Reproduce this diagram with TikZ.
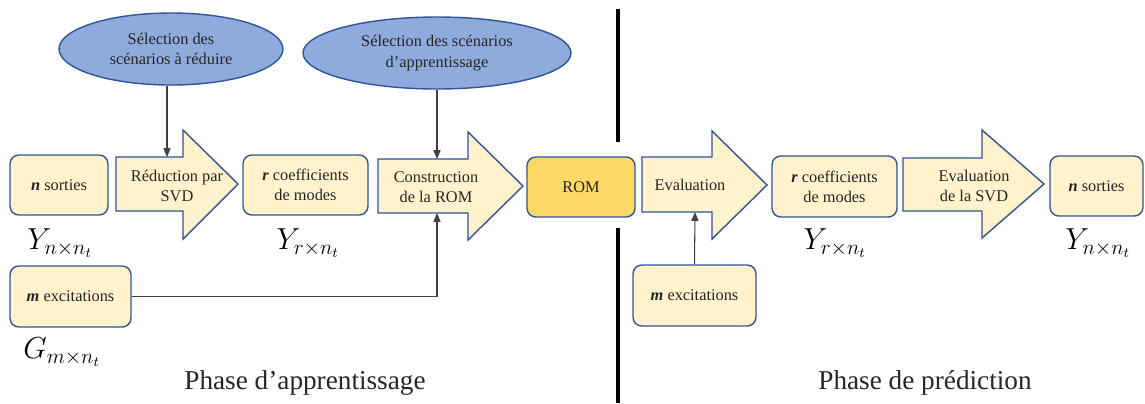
\documentclass[tikz,border=0pt]{standalone}
\usepackage{fontspec}
\setmainfont{Liberation Serif}
\usepackage{amsmath}
\usetikzlibrary{shapes.geometric,arrows.meta}

\definecolor{boxfill}{HTML}{FFF2CC}
\definecolor{edgeblue}{HTML}{2F5597}
\definecolor{ellfill}{HTML}{8FAADC}
\definecolor{romfill}{HTML}{FFD966}
\definecolor{linkgray}{HTML}{404040}
\definecolor{inkgray}{HTML}{262626}

\begin{document}
\begin{tikzpicture}[x=0.02cm,y=-0.02cm,
    box/.style={draw=edgeblue,fill=boxfill,line width=0.8pt,rounded corners=5pt,
      minimum height=1.2cm,align=center,inner sep=1pt,text=inkgray,font=\fontsize{9.3}{11.5}\selectfont},
    choice/.style={ellipse,draw=edgeblue,fill=ellfill,line width=0.8pt,inner sep=0pt,
      align=center,text=inkgray,font=\fontsize{9.3}{11.5}\selectfont},
    bigarrow/.style={draw=edgeblue,fill=boxfill,line width=0.8pt,line join=miter},
    steptext/.style={align=center,inner sep=0pt,text=inkgray,font=\fontsize{9.3}{11.5}\selectfont},
    matlabel/.style={font=\fontsize{16.5}{19}\selectfont},
    phase/.style={text=inkgray,font=\fontsize{15.5}{18}\selectfont},
    link/.style={draw=linkgray,line width=0.6pt,-{Triangle[length=5pt,width=4pt]}},
    divider/.style={line width=1.8pt,black}]

\useasboundingbox (0,0) rectangle (1145,403);

% Learning phase
\node[box,minimum width=1.96cm] (sortA) at (59,185) {\textbf{\textit{n}} sorties};
\node[box,minimum width=2.5cm] (coefA) at (305.5,185) {\textbf{\textit{r}} coefficients\\de modes};
\node[box,minimum width=2.42cm,minimum height=1.22cm] (excA) at (70.5,296.5) {\textbf{\textit{m}} excitations};
\node[box,fill=romfill,minimum width=2.16cm] (rom) at (581,187) {ROM};

\node[choice,minimum width=4.48cm,minimum height=1.44cm] (sel1) at (171,49)
  {S\'election des\\sc\'enarios \`a r\'eduire};
\node[choice,minimum width=5.36cm,minimum height=1.44cm] (sel2) at (437,53)
  {S\'election des sc\'enarios\\d'apprentissage};

\draw[bigarrow] (116,157) -- (183,157) -- (183,130) -- (238,184) -- (183,239) -- (183,211) -- (116,211) -- cycle;
\draw[bigarrow] (378,159) -- (468,159) -- (468,132) -- (523,186) -- (468,240) -- (468,213) -- (378,213) -- cycle;
\node[steptext] (red) at (177,186) {R\'eduction par\\SVD};
\node[steptext] (cons) at (436,187) {Construction\\de la ROM};

\coordinate (redtop) at (167,157);
\coordinate (constop) at (437,159);
\coordinate (consbot) at (437,213);

\draw[link] (redtop |- sel1.south) -- (redtop);
\draw[link] (sel2.south) -- (constop);
\draw[link] (excA.east) -| (consbot);

\node[matlabel] (ynA) at (60,243) {$Y_{n\times n_t}$};
\node[matlabel] (yrA) at (308,243) {$Y_{r\times n_t}$};
\node[matlabel] (gmA) at (62,352) {$G_{m\times n_t}$};

% Prediction phase
\draw[bigarrow] (642,157) -- (712,157) -- (712,131) -- (767,185) -- (712,239) -- (712,212) -- (642,212) -- cycle;
\draw[bigarrow] (903,158) -- (982,158) -- (982,130) -- (1044,184) -- (982,238) -- (982,211) -- (903,211) -- cycle;
\node[steptext] (evalA) at (690,185) {Evaluation};
\node[steptext] (evalB) at (974,186) {Evaluation\\de la SVD};

\node[box,minimum width=2.5cm,minimum height=1.22cm] (coefB) at (834.5,186.5) {\textbf{\textit{r}} coefficients\\de modes};
\node[box,minimum width=1.86cm] (sortB) at (1096.5,186) {\textbf{\textit{n}} sorties};
\node[box,minimum width=2.46cm,minimum height=1.22cm] (excB) at (694.5,295.5) {\textbf{\textit{m}} excitations};

\coordinate (evalbot) at (695,212);
\draw[link] (excB.north) -- (evalbot);

\node[matlabel] (yrB) at (835,243) {$Y_{r\times n_t}$};
\node[matlabel] (ynB) at (1098,243) {$Y_{n\times n_t}$};

% Separation of the two phases
\draw[divider] (618,9) -- (618,142);
\draw[divider] (618,228) -- (618,403);

\node[phase] (learn) at (305,383) {Phase d'apprentissage};
\node[phase] (pred) at (925,383) {Phase de pr\'ediction};

\end{tikzpicture}
\end{document}
